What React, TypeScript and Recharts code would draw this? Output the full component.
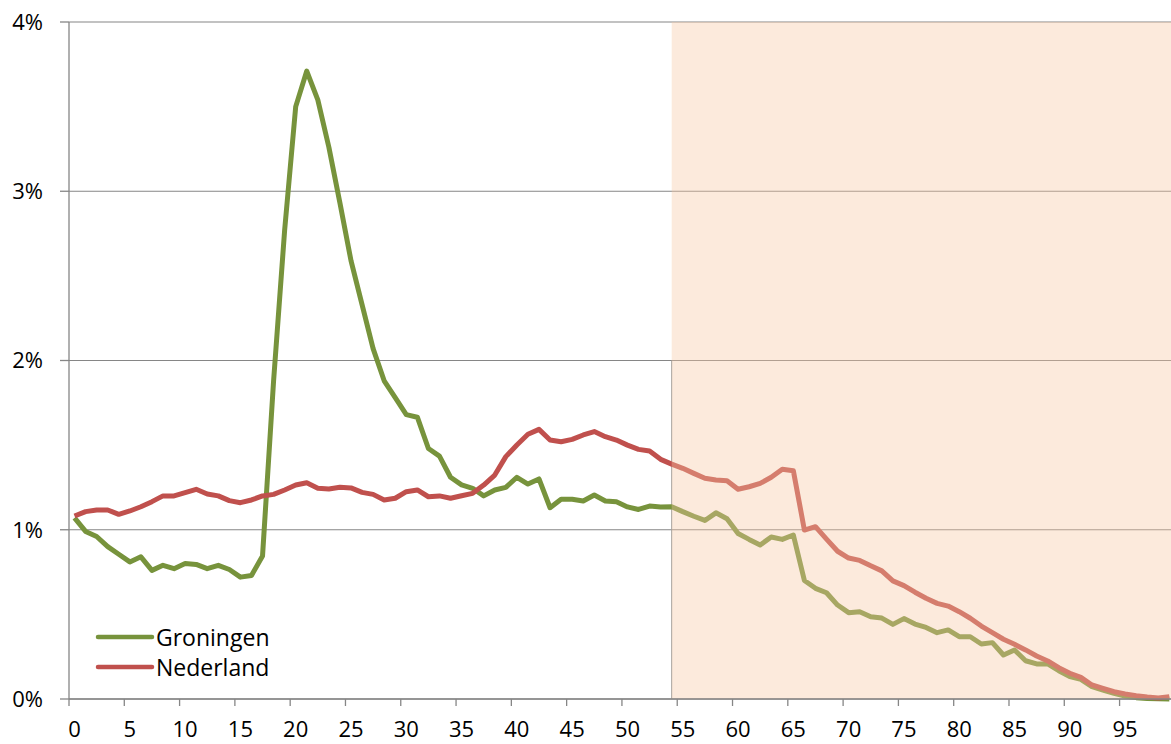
import {
  CartesianGrid,
  Legend,
  Line,
  LineChart,
  ReferenceArea,
  ReferenceLine,
  XAxis,
  YAxis,
} from 'recharts';

const FONT = '"Open Sans", "Noto Sans", sans-serif';

// ages 0..99
const AGES = [
  0, 1, 2, 3, 4, 5, 6, 7, 8, 9, 10, 11, 12, 13, 14, 15, 16, 17, 18, 19,
  20, 21, 22, 23, 24, 25, 26, 27, 28, 29, 30, 31, 32, 33, 34, 35, 36, 37, 38, 39,
  40, 41, 42, 43, 44, 45, 46, 47, 48, 49, 50, 51, 52, 53, 54, 55, 56, 57, 58, 59,
  60, 61, 62, 63, 64, 65, 66, 67, 68, 69, 70, 71, 72, 73, 74, 75, 76, 77, 78, 79,
  80, 81, 82, 83, 84, 85, 86, 87, 88, 89, 90, 91, 92, 93, 94, 95, 96, 97, 98, 99,
];

// share of population per age, in %
const GRONINGEN = [
  1.07, 0.99, 0.96, 0.9, 0.855, 0.81, 0.84, 0.76, 0.79, 0.77,
  0.8, 0.795, 0.77, 0.79, 0.765, 0.72, 0.73, 0.845, 1.88, 2.77,
  3.5, 3.71, 3.54, 3.26, 2.93, 2.59, 2.33, 2.07, 1.88, 1.78,
  1.68, 1.665, 1.48, 1.435, 1.31, 1.265, 1.245, 1.2, 1.235, 1.25,
  1.31, 1.27, 1.3, 1.13, 1.18, 1.18, 1.17, 1.205, 1.17, 1.165,
  1.135, 1.12, 1.14, 1.135, 1.136, 1.107, 1.08, 1.055, 1.1, 1.065,
  0.978, 0.943, 0.91, 0.957, 0.943, 0.969, 0.7, 0.654, 0.628, 0.555,
  0.51, 0.516, 0.486, 0.478, 0.441, 0.475, 0.443, 0.423, 0.392, 0.408,
  0.368, 0.368, 0.325, 0.333, 0.26, 0.29, 0.226, 0.207, 0.207, 0.167,
  0.132, 0.116, 0.073, 0.053, 0.034, 0.018, 0.008, 0.003, 0.001, 0.0,
];

const NEDERLAND = [
  1.081, 1.107, 1.117, 1.117, 1.091, 1.111, 1.136, 1.166, 1.2, 1.2,
  1.219, 1.239, 1.211, 1.2, 1.172, 1.16, 1.176, 1.2, 1.209, 1.235,
  1.264, 1.278, 1.245, 1.241, 1.251, 1.247, 1.221, 1.209, 1.176, 1.186,
  1.225, 1.235, 1.195, 1.2, 1.186, 1.201, 1.215, 1.264, 1.323, 1.432,
  1.501, 1.564, 1.593, 1.53, 1.52, 1.534, 1.56, 1.58, 1.55, 1.53,
  1.5, 1.475, 1.465, 1.416, 1.388, 1.363, 1.333, 1.304, 1.294, 1.29,
  1.239, 1.254, 1.274, 1.31, 1.357, 1.349, 0.998, 1.018, 0.945, 0.873,
  0.833, 0.819, 0.787, 0.757, 0.698, 0.67, 0.631, 0.595, 0.565, 0.549,
  0.516, 0.477, 0.431, 0.392, 0.353, 0.323, 0.29, 0.254, 0.225, 0.185,
  0.152, 0.128, 0.083, 0.063, 0.043, 0.03, 0.02, 0.012, 0.006, 0.014,
];

const AGE_TICKS = [0, 5, 10, 15, 20, 25, 30, 35, 40, 45, 50, 55, 60, 65, 70, 75, 80, 85, 90, 95];
const PCT_TICKS = [0, 1, 2, 3, 4];

// start of the shaded part (age 54 onwards)
const SHADE_FROM = 54;

const SERIES = [
  { key: 'groningen', name: 'Groningen', color: '#77933C' },
  { key: 'nederland', name: 'Nederland', color: '#C0504D' },
];

const data = AGES.map((age, i) => ({
  age,
  groningen: GRONINGEN[i],
  nederland: NEDERLAND[i],
}));

const W = 1171;
const H = 744;
const Y_AXIS_W = 69;
const X_MIN = -0.5;
const X_MAX = 99.15;
const UNIT_PX = (W - Y_AXIS_W) / (X_MAX - X_MIN);
const AXIS_COLOR = '#868686';

// labels sit on the age, tick marks between ages
const AgeTick = (props: any) => {
  const { x, y, payload } = props;
  const tx = x - UNIT_PX / 2;
  return (
    <g>
      <line x1={tx} x2={tx} y1={y} y2={y + 7} stroke={AXIS_COLOR} strokeWidth={1.3} />
      <text
        x={x}
        y={y + 38}
        textAnchor="middle"
        fill="#000"
        fontSize={22}
        fontFamily={FONT}
      >
        {payload.value}
      </text>
    </g>
  );
};

const renderLegend = () => (
  <div style={{ fontFamily: FONT, fontSize: 23, color: '#000' }}>
    {SERIES.map((s) => (
      <div key={s.key} style={{ display: 'flex', alignItems: 'center', height: 30 }}>
        <svg width={60} height={10} style={{ display: 'block' }}>
          <line
            x1={3}
            y1={5}
            x2={57}
            y2={5}
            stroke={s.color}
            strokeWidth={4.5}
            strokeLinecap="round"
          />
        </svg>
        <span style={{ marginLeft: 1, lineHeight: '30px' }}>{s.name}</span>
      </div>
    ))}
  </div>
);

export default function App() {
  return (
    <div style={{ position: 'absolute', left: 0, top: 0, width: W, height: H, background: '#fff' }}>
      <LineChart
        width={W}
        height={H}
        data={data}
        margin={{ top: 22, right: 0, bottom: 0, left: 0 }}
      >
        <CartesianGrid vertical={false} stroke={AXIS_COLOR} strokeWidth={1.2} />
        <XAxis
          dataKey="age"
          type="number"
          domain={[X_MIN, X_MAX]}
          ticks={AGE_TICKS}
          interval={0}
          allowDataOverflow
          height={45}
          tickLine={false}
          tickSize={0}
          tickMargin={0}
          stroke={AXIS_COLOR}
          strokeWidth={1.3}
          tick={<AgeTick />}
        />
        <YAxis
          domain={[0, 4]}
          ticks={PCT_TICKS}
          interval={0}
          width={Y_AXIS_W}
          tickSize={9}
          tickMargin={17}
          stroke={AXIS_COLOR}
          strokeWidth={1.3}
          tick={{ fill: '#000', fontSize: 22, fontFamily: FONT }}
          tickFormatter={(v) => `${v}%`}
        />
        <ReferenceLine
          segment={[
            { x: SHADE_FROM, y: 0 },
            { x: SHADE_FROM, y: 2 },
          ]}
          stroke="#9A9A9A"
          strokeWidth={1}
        />
        {SERIES.map((s) => (
          <Line
            key={s.key}
            type="linear"
            dataKey={s.key}
            name={s.name}
            stroke={s.color}
            strokeWidth={5}
            strokeLinejoin="round"
            dot={false}
            activeDot={false}
            isAnimationActive={false}
          />
        ))}
        <ReferenceArea
          x1={SHADE_FROM}
          x2={X_MAX}
          y1={0}
          y2={4}
          fill="#F8C7A2"
          fillOpacity={0.38}
          stroke="none"
          zIndex={450}
        />
        <Legend
          layout="vertical"
          align="center"
          verticalAlign="middle"
          wrapperStyle={{ left: 95, top: 622, width: 220 }}
          content={renderLegend}
        />
      </LineChart>
    </div>
  );
}
